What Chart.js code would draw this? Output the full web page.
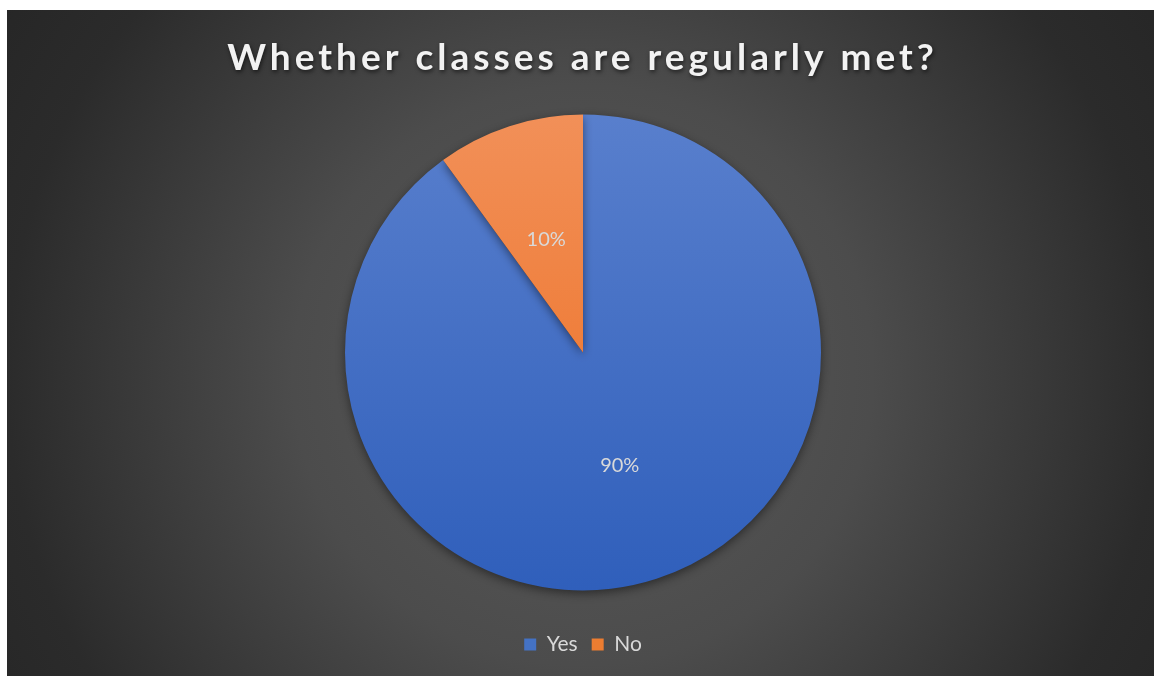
<!DOCTYPE html>
<html>
<head>
<meta charset="utf-8">
<script src="https://cdn.jsdelivr.net/npm/chart.js@4.4.1/dist/chart.umd.min.js"></script>
<style>
  html, body { margin: 0; padding: 0; background: #ffffff; }
  #wrap {
    position: absolute;
    left: 7px;
    top: 10px;
    width: 1147px;
    height: 666px;
    background: radial-gradient(circle at 576px 365px, #5a5a5a 0px, #4c4c4c 290px, #2b2b2b 576px, #252525 720px);
  }
</style>
</head>
<body>
<div id="wrap"><canvas id="myChart"></canvas></div>
<script>
const titleText = "Whether classes are regularly met?";
const labels = ["Yes", "No"];
const values = [90, 10];

const verticalGradient = (chart, top, bottom) => {
  const { ctx, chartArea } = chart;
  if (!chartArea) return top;
  const g = ctx.createLinearGradient(0, chartArea.top, 0, chartArea.bottom);
  g.addColorStop(0, top);
  g.addColorStop(1, bottom);
  return g;
};

// spaced-out title with shadow, soft pie shadow, percent labels
const stylePlugin = {
  id: "stylePlugin",
  beforeDatasetsDraw: (chart) => {
    const ctx = chart.ctx;
    ctx.save();
    ctx.shadowColor = "rgba(0,0,0,0.45)";
    ctx.shadowBlur = 10;
    ctx.shadowOffsetY = 3;
  },
  afterDatasetsDraw: (chart) => {
    const ctx = chart.ctx;
    ctx.restore();
    const meta = chart.getDatasetMeta(0);
    const total = values.reduce((a, b) => a + b, 0);
    ctx.save();
    ctx.fillStyle = "#d9d9d9";
    ctx.font = "20px Lato";
    ctx.textAlign = "center";
    ctx.textBaseline = "middle";
    meta.data.forEach((arc, i) => {
      const p = arc.getProps(["x", "y", "startAngle", "endAngle", "outerRadius"], true);
      const mid = (p.startAngle + p.endAngle) / 2;
      const r = p.outerRadius * 0.5;
      const pct = Math.round((values[i] / total) * 100) + "%";
      ctx.fillText(pct, p.x + Math.cos(mid) * r, p.y + Math.sin(mid) * r);
    });
    ctx.restore();
  },
  afterDraw: (chart) => {
    const ctx = chart.ctx;
    ctx.save();
    ctx.letterSpacing = "4px";
    ctx.shadowColor = "rgba(0,0,0,0.6)";
    ctx.shadowBlur = 4;
    ctx.shadowOffsetX = 1;
    ctx.shadowOffsetY = 2;
    ctx.fillStyle = "#f2f2f2";
    ctx.font = "bold 37px Lato";
    ctx.textAlign = "center";
    ctx.textBaseline = "middle";
    ctx.fillText(titleText, chart.width / 2 + 2, 48);
    ctx.restore();
  },
};

const ctx = document.getElementById("myChart").getContext("2d");
new Chart(ctx, {
  type: "pie",
  plugins: [stylePlugin],
  data: {
    labels: labels,
    datasets: [
      {
        data: values,
        backgroundColor: (c) =>
          c.dataIndex === 0
            ? verticalGradient(c.chart, "#5b81ce", "#2d5dba")
            : verticalGradient(c.chart, "#f2925c", "#ec6a1a"),
        borderWidth: 0,
      },
    ],
  },
  options: {
    responsive: true,
    maintainAspectRatio: false,
    animation: false,
    radius: 238,
    layout: {
      padding: { top: 75, bottom: 11, left: 5 },
    },
    plugins: {
      title: { display: false },
      legend: {
        position: "bottom",
        labels: {
          color: "#d9d9d9",
          boxWidth: 12,
          boxHeight: 12,
          padding: 14,
          font: { family: "Lato", size: 21 },
          generateLabels: (chart) =>
            labels.map((l, i) => ({
              text: l,
              fillStyle: i === 0 ? "#4472c4" : "#ed7d31",
              strokeStyle: "transparent",
              lineWidth: 0,
              fontColor: "#d9d9d9",
              index: i,
            })),
        },
      },
      tooltip: { enabled: false },
    },
  },
});
</script>
</body>
</html>
